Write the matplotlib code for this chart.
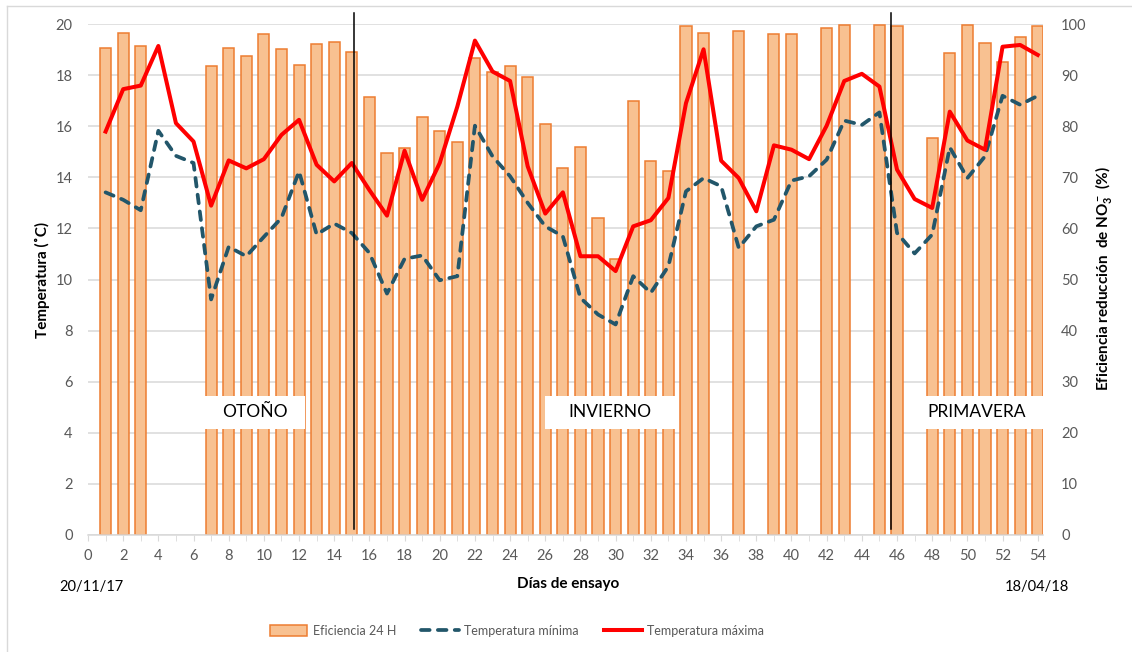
import numpy as np
import matplotlib
matplotlib.use('Agg')
import matplotlib.pyplot as plt
from matplotlib.patches import Rectangle, Patch
from matplotlib.lines import Line2D

plt.rcParams['font.family'] = ['Lato', 'DejaVu Sans']
plt.rcParams['mathtext.fontset'] = 'custom'
plt.rcParams['mathtext.rm'] = 'Lato:bold'
plt.rcParams['mathtext.default'] = 'rm'

# datos
dias = list(range(1, 55))
temp_max = [15.79, 17.45, 17.59, 19.14, 16.12, 15.40, 12.89, 14.66, 14.35, 14.71,
            15.66, 16.25, 14.49, 13.84, 14.56, 13.50, 12.50, 15.04, 13.12, 14.56,
            16.77, 19.35, 18.14, 17.77, 14.43, 12.58, 13.41, 10.91, 10.91, 10.33,
            12.08, 12.32, 13.19, 16.90, 19.01, 14.65, 13.97, 12.67, 15.25, 15.08,
            14.71, 16.02, 17.77, 18.05, 17.55, 14.30, 13.15, 12.80, 16.57, 15.44,
            15.08, 19.11, 19.18, 18.79]
temp_min = [13.41, 13.12, 12.71, 15.82, 14.84, 14.56, 9.22, 11.28, 10.91, 11.67,
            12.41, 14.23, 11.76, 12.19, 11.82, 11.04, 9.45, 10.81, 10.94, 9.97,
            10.13, 16.02, 14.82, 14.04, 13.00, 12.08, 11.69, 9.28, 8.63, 8.24,
            10.13, 9.48, 10.52, 13.45, 13.97, 13.65, 11.24, 12.08, 12.34, 13.87,
            14.04, 14.69, 16.22, 16.05, 16.54, 11.82, 11.02, 11.76, 15.17, 13.97,
            14.82, 17.19, 16.84, 17.19]
dias_ef = [1, 2, 3, 7, 8, 9, 10, 11, 12, 13, 14, 15, 16, 17, 18, 19, 20, 21, 22, 23,
           24, 25, 26, 27, 28, 29, 30, 31, 32, 33, 34, 35, 37, 39, 40, 42, 43, 45, 46,
           48, 49, 50, 51, 52, 53, 54]
eficiencia = [95.4, 98.2, 95.6, 91.7, 95.4, 93.8, 98.0, 95.1, 91.9, 96.0, 96.4, 94.6,
              85.7, 74.7, 75.7, 81.8, 79.1, 77.0, 93.3, 90.7, 91.7, 89.6, 80.5, 71.8,
              76.0, 62.0, 54.0, 84.9, 73.1, 71.3, 99.6, 98.3, 98.6, 98.0, 98.0, 99.3,
              99.8, 99.8, 99.6, 77.6, 94.4, 99.8, 96.2, 92.5, 97.5, 99.6]
estaciones = ['OTOÑO', 'INVIERNO', 'PRIMAVERA']
cambios = [15.12, 45.65]

gris = '#595959'
grid_c = '#D9D9D9'
c_min = '#22566A'

fig = plt.figure(figsize=(11.32, 6.52), dpi=100)
ax = fig.add_axes([88/1132, 117/652, 955/1132, 511/652])
ax2 = ax.twinx()

# barras en el eje derecho, lineas encima
ax2.bar(dias_ef, eficiencia, width=0.63, color='#F8C191', edgecolor='#ED7D31', linewidth=1.1, zorder=2)
ax2.set_ylim(0, 100)
ax2.set_yticks(range(0, 101, 10))
ax2.yaxis.grid(True, color=grid_c, linewidth=1.1, zorder=0)
ax2.set_axisbelow(True)
for s in ax2.spines.values():
    s.set_visible(False)
ax2.tick_params(axis='y', length=0, pad=13, labelsize=10.5, labelcolor=gris)

ax.set_zorder(ax2.get_zorder() + 1)
ax.patch.set_visible(False)
ax.plot(dias, temp_min, color=c_min, linewidth=2.7, dashes=(2.3, 2.2), dash_capstyle='round', zorder=3)
ax.plot(dias, temp_max, color='#FF0000', linewidth=2.9, zorder=4)

ax.set_xlim(0, 54.3)
ax.set_ylim(0, 20)
ax.set_yticks(range(0, 21, 2))
ax.set_xticks(range(0, 55, 2))
ax.set_xticks(range(1, 55, 2), minor=True)
for s in ['top', 'left', 'right']:
    ax.spines[s].set_visible(False)
ax.spines['bottom'].set_color(grid_c)
ax.spines['bottom'].set_linewidth(1.1)
ax.tick_params(axis='y', length=0, pad=11, labelsize=10.5, labelcolor=gris)
ax.tick_params(axis='x', which='both', direction='out', length=4, color=grid_c, pad=6,
               labelsize=10.5, labelcolor=gris)

# lineas de cambio de estacion
for xc in cambios:
    ax.plot([xc, xc], [0.25, 20.45], color='black', linewidth=1.1, clip_on=False, zorder=6)

# cajas de texto de las estaciones
cajas = [(6.65, 12.34), (25.98, 33.6), (47.5, 54.3)]
centros = [9.5, 29.65, 50.5]
for nombre, (x0, x1), xc in zip(estaciones, cajas, centros):
    ax.add_patch(Rectangle((x0, 4.15), x1 - x0, 1.29, facecolor='white', edgecolor='none', zorder=5))
    ax.text(xc, 4.8, nombre, ha='center', va='center', fontsize=12.5, color='black', zorder=6)

fig.text(42/1132, 1 - 280/652, 'Temperatura (˚C)', rotation=90, ha='center', va='center',
         fontsize=11, fontweight='bold')
fig.text(1103/1132, 1 - 279/652, 'Eficiencia reducción  de NO$_3^-$ (%)', rotation=90,
         ha='center', va='center', fontsize=11, fontweight='bold')
fig.text(568/1132, 1 - 584/652, 'Días de ensayo', ha='center', va='center', fontsize=11, fontweight='bold')
fig.text(91/1132, 1 - 587/652, '20/11/17', ha='center', va='center', fontsize=10.5)
fig.text(1037/1132, 1 - 587/652, '18/04/18', ha='center', va='center', fontsize=10.5)

handles = [Patch(facecolor='#F8C191', edgecolor='#ED7D31', linewidth=1.1),
           Line2D([], [], color=c_min, linewidth=2.7, dashes=(2.3, 2.2), dash_capstyle='round'),
           Line2D([], [], color='#FF0000', linewidth=2.9)]
leg = fig.legend(handles, ['Eficiencia 24 H', 'Temperatura mínima', 'Temperatura máxima'],
                 loc='center', bbox_to_anchor=(517/1132, 21/652), ncol=3, frameon=False,
                 fontsize=9, handlelength=3.0, handleheight=1.0, handletextpad=0.45,
                 columnspacing=2.0)
for t in leg.get_texts():
    t.set_color(gris)

# borde del grafico
fig.add_artist(Line2D([7/1132, 7/1132], [0, 1 - 6/652], color=grid_c, linewidth=1))
fig.add_artist(Line2D([7/1132, 1], [1 - 6/652, 1 - 6/652], color=grid_c, linewidth=1))

fig.savefig('out.png', dpi=100)
